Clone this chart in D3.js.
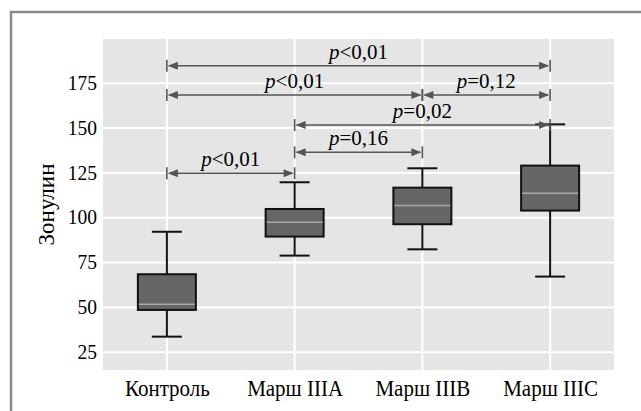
<!DOCTYPE html>
<html><head><meta charset="utf-8">
<script src="https://cdn.jsdelivr.net/npm/d3@7"></script>
<style>body{margin:0;background:#fff}svg{display:block}</style>
</head><body><svg id="c" width="641" height="411"></svg>
<script>
const categories = ["Контроль","Марш IIIA","Марш IIIB","Марш IIIC"];
const whiskerLow = [33.7,78.9,82.4,67.2];
const q1 = [48.6,89.5,96.4,104.0];
const median = [51.8,97.5,106.8,113.7];
const q3 = [68.5,104.9,116.8,129.1];
const whiskerHigh = [92.2,119.8,127.6,152.1];
const yTicks = [25,50,75,100,125,150,175];
const compFrom = [0,0,2,1,1,0];
const compTo = [3,2,3,3,2,1];
const compLevel = [184.8,168.5,168.5,151.7,136.5,124.8];
const compOp = ["<","<","=","=","=","<"];
const compVal = ["0,01","0,01","0,12","0,02","0,16","0,01"];

const FONT = '"Liberation Serif",Tinos,"Times New Roman","DejaVu Serif",Times,serif';
const svg = d3.select("#c");
const L=103,R=614,T=39,B=370;
const x = d3.scalePoint().domain(categories).range([L,R]).padding(0.5);
const y = d3.scaleLinear().domain([15.1,199.7]).range([B,T]);

// frame
svg.append("rect").attr("x",11).attr("y",12).attr("width",700).attr("height",500)
  .attr("fill","none").attr("stroke","#8a8a8a").attr("stroke-width",2.5);

// panel
svg.append("rect").attr("x",L).attr("y",T).attr("width",R-L).attr("height",B-T).attr("fill","#e5e5e5");
const g = svg.append("g");
g.selectAll(".hg").data(yTicks).join("line").attr("x1",L).attr("x2",R)
  .attr("y1",d=>y(d)).attr("y2",d=>y(d)).attr("stroke","#fff").attr("stroke-width",2);
g.selectAll(".vg").data(categories).join("line").attr("y1",T).attr("y2",B)
  .attr("x1",d=>x(d)).attr("x2",d=>x(d)).attr("stroke","#fff").attr("stroke-width",2);

// axes
const yAxis = svg.append("g").attr("transform",`translate(${L},0)`)
  .call(d3.axisLeft(y).tickValues(yTicks).tickSize(0).tickPadding(6));
yAxis.attr("font-family",FONT).attr("font-size",19.5);
yAxis.select(".domain").remove();
yAxis.selectAll("text").attr("fill","#000").attr("dy","0.28em").attr("transform","scale(1,1.12)");

const xAxis = svg.append("g").attr("transform",`translate(0,${B})`)
  .call(d3.axisBottom(x).tickSize(0).tickPadding(9));
xAxis.attr("font-family",FONT).attr("font-size",21);
xAxis.select(".domain").remove();
xAxis.selectAll("text").attr("fill","#000").attr("transform","scale(1,1.07)");

svg.append("text").attr("transform",`translate(54,${(T+B)/2}) rotate(-90)`)
  .attr("text-anchor","middle").attr("font-family",FONT).attr("font-size",23).text("Зонулин");

// boxes
const bw=58, cw=30;
const bx = svg.append("g");
categories.forEach((c,i)=>{
  const cx=x(c);
  bx.append("line").attr("x1",cx).attr("x2",cx).attr("y1",y(whiskerHigh[i])).attr("y2",y(q3[i])).attr("stroke","#111").attr("stroke-width",2);
  bx.append("line").attr("x1",cx).attr("x2",cx).attr("y1",y(q1[i])).attr("y2",y(whiskerLow[i])).attr("stroke","#111").attr("stroke-width",2);
  bx.append("line").attr("x1",cx-cw/2).attr("x2",cx+cw/2).attr("y1",y(whiskerHigh[i])).attr("y2",y(whiskerHigh[i])).attr("stroke","#111").attr("stroke-width",2);
  bx.append("line").attr("x1",cx-cw/2).attr("x2",cx+cw/2).attr("y1",y(whiskerLow[i])).attr("y2",y(whiskerLow[i])).attr("stroke","#111").attr("stroke-width",2);
  bx.append("rect").attr("x",cx-bw/2).attr("y",y(q3[i])).attr("width",bw).attr("height",y(q1[i])-y(q3[i]))
    .attr("fill","#666").attr("stroke","#111").attr("stroke-width",2);
  bx.append("line").attr("x1",cx-bw/2+1).attr("x2",cx+bw/2-1).attr("y1",y(median[i])).attr("y2",y(median[i])).attr("stroke","#a8a8a8").attr("stroke-width",1.5);
});

// comparison brackets
const ac="#555";
const cg = svg.append("g");
compFrom.forEach((f,i)=>{
  const x1=x(categories[f]), x2=x(categories[compTo[i]]), yy=y(compLevel[i]);
  cg.append("line").attr("x1",x1+2).attr("x2",x2-2).attr("y1",yy).attr("y2",yy).attr("stroke",ac).attr("stroke-width",1.6);
  cg.append("line").attr("x1",x1).attr("x2",x1).attr("y1",yy-6).attr("y2",yy+6).attr("stroke",ac).attr("stroke-width",1.6);
  cg.append("line").attr("x1",x2).attr("x2",x2).attr("y1",yy-6).attr("y2",yy+6).attr("stroke",ac).attr("stroke-width",1.6);
  cg.append("path").attr("d",`M${x1+1},${yy}L${x1+11},${yy-4}L${x1+11},${yy+4}Z`).attr("fill",ac);
  cg.append("path").attr("d",`M${x2-1},${yy}L${x2-11},${yy-4}L${x2-11},${yy+4}Z`).attr("fill",ac);
  const t = cg.append("text").attr("x",(x1+x2)/2).attr("y",yy-7).attr("text-anchor","middle")
    .attr("font-family",FONT).attr("font-size",21).attr("fill","#000");
  t.append("tspan").attr("font-style","italic").text("p");
  t.append("tspan").text(compOp[i]+compVal[i]);
});
</script></body></html>
